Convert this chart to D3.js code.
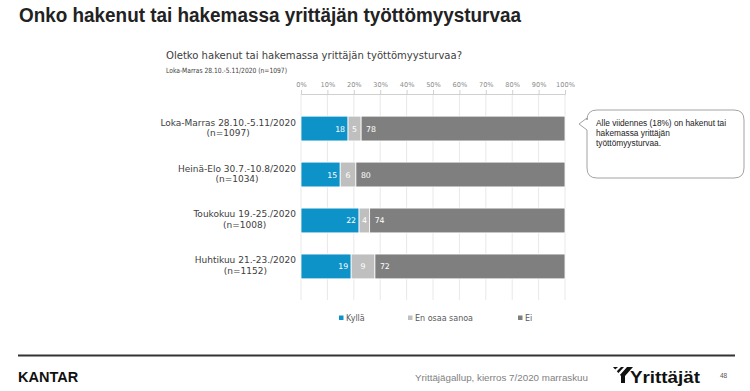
<html>
<head>
  <meta charset="utf-8">
  <script src="https://d3js.org/d3.v7.min.js"></script>
  <style>
    body { margin: 0; background: #fff; }
    svg { display: block; }
  </style>
</head>
<body>
  <div id="chart"></div>
  <script>
    /*--- Data ---*/
    var categories = ["Loka-Marras 28.10.-5.11/2020", "Heinä-Elo 30.7.-10.8/2020", "Toukokuu 19.-25./2020", "Huhtikuu 21.-23./2020"];
    var sampleSizes = ["(n=1097)", "(n=1034)", "(n=1008)", "(n=1152)"];
    var seriesNames = ["Kyllä", "En osaa sanoa", "Ei"];
    var kylla = [18, 15, 22, 19];
    var enOsaa = [5, 6, 4, 9];
    var ei = [78, 80, 74, 72];
    var tickValues = [0, 10, 20, 30, 40, 50, 60, 70, 80, 90, 100];

    var colors = ["#0e93c9", "#bfbfbf", "#7f7f7f"];
    var W = 750, H = 391;
    var chartFont = "'DejaVu Sans', Verdana, sans-serif";
    var arial = "'Liberation Sans', Arial, sans-serif";

    var svg = d3.select("#chart").append("svg").attr("width", W).attr("height", H);

    /*--- Title ---*/
    svg.append("text").attr("x", 19).attr("y", 22)
      .attr("font-family", arial).attr("font-weight", "bold").attr("font-size", 20)
      .attr("fill", "#222").attr("textLength", 502).attr("lengthAdjust", "spacingAndGlyphs")
      .text("Onko hakenut tai hakemassa yrittäjän työttömyysturvaa");

    svg.append("text").attr("x", 166).attr("y", 59)
      .attr("font-family", chartFont).attr("font-size", 10).attr("fill", "#404040")
      .attr("textLength", 296).attr("lengthAdjust", "spacingAndGlyphs")
      .text("Oletko hakenut tai hakemassa yrittäjän työttömyysturvaa?");
    svg.append("text").attr("x", 166).attr("y", 72.5)
      .attr("font-family", chartFont).attr("font-size", 7.2).attr("fill", "#404040")
      .attr("textLength", 121).attr("lengthAdjust", "spacingAndGlyphs")
      .text("Loka-Marras 28.10.-5.11/2020 (n=1097)");

    /*--- Scales ---*/
    var x = d3.scaleLinear().domain([0, 100]).range([301, 565]);
    var y = d3.scaleBand().domain(categories).range([95, 300]).padding(0.46);

    /*--- Grid + axis ---*/
    svg.append("g").selectAll("line").data(tickValues).enter().append("line")
      .attr("x1", function (d) { return x(d); }).attr("x2", function (d) { return x(d); })
      .attr("y1", 94).attr("y2", 300)
      .attr("stroke", "#e8e8e8").attr("stroke-width", 1);

    var axis = svg.append("g").attr("transform", "translate(0,94)")
      .call(d3.axisTop(x).tickValues(tickValues).tickSize(4).tickPadding(3)
        .tickFormat(function (d) { return d + "%"; }));
    axis.select(".domain").attr("stroke", "#d0d0d0");
    axis.selectAll(".tick line").attr("stroke", "#d0d0d0");
    axis.selectAll("text").attr("font-family", chartFont).attr("font-size", 6.6).attr("fill", "#8c8c8c");

    /*--- Stacked bars ---*/
    var rows = categories.map(function (c, i) {
      var vals = [kylla[i], enOsaa[i], ei[i]];
      var sum = d3.sum(vals), acc = 0;
      return vals.map(function (v, k) {
        var seg = { cat: c, k: k, v: v, x0: acc / sum * 100, x1: (acc + v) / sum * 100 };
        acc += v;
        return seg;
      });
    });

    var rowG = svg.append("g").selectAll("g").data(rows).enter().append("g");
    rowG.selectAll("rect").data(function (d) { return d; }).enter().append("rect")
      .attr("x", function (d) { return x(d.x0); })
      .attr("width", function (d) { return x(d.x1) - x(d.x0); })
      .attr("y", function (d) { return y(d.cat); })
      .attr("height", y.bandwidth())
      .attr("fill", function (d) { return colors[d.k]; })
      .attr("stroke", "#fff").attr("stroke-width", 0.8);

    rowG.selectAll("text").data(function (d) { return d; }).enter().append("text")
      .attr("x", function (d) {
        if (d.k === 0) return x(d.x1) - 3;
        if (d.k === 1) return (x(d.x0) + x(d.x1)) / 2;
        return x(d.x0) + 5;
      })
      .attr("text-anchor", function (d) { return d.k === 0 ? "end" : d.k === 1 ? "middle" : "start"; })
      .attr("y", function (d) { return y(d.cat) + y.bandwidth() / 2 + 3; })
      .attr("font-family", chartFont).attr("font-size", 7.8).attr("fill", "#fff")
      .text(function (d) { return d.v; });

    /*--- Category labels ---*/
    categories.forEach(function (c, i) {
      var cy = y(c) + y.bandwidth() / 2;
      var g = svg.append("g");
      var t1 = g.append("text").attr("y", cy - 3).text(c);
      var t2 = g.append("text").attr("y", cy + 7.5).text(sampleSizes[i]);
      g.selectAll("text").attr("font-family", chartFont).attr("font-size", 9)
        .attr("fill", "#404040").attr("text-anchor", "middle");
      var w = Math.max(t1.node().getComputedTextLength(), t2.node().getComputedTextLength());
      g.selectAll("text").attr("x", 296 - w / 2);
    });

    /*--- Legend ---*/
    var legendX = [339, 408, 518];
    var leg = svg.append("g").selectAll("g").data(seriesNames).enter().append("g")
      .attr("transform", function (d, i) { return "translate(" + legendX[i] + ",321)"; });
    leg.append("rect").attr("x", 0).attr("y", -5.5).attr("width", 4.5).attr("height", 4.5)
      .attr("fill", function (d, i) { return colors[i]; });
    leg.append("text").attr("x", 7).attr("y", 0)
      .attr("font-family", chartFont).attr("font-size", 8).attr("fill", "#595959")
      .text(function (d) { return d; });

    /*--- Callout ---*/
    var bx0 = 587, bx1 = 744, by0 = 110, by1 = 178, r = 10;
    var callout = d3.path();
    callout.moveTo(bx0 + r, by0);
    callout.lineTo(bx1 - r, by0);
    callout.quadraticCurveTo(bx1, by0, bx1, by0 + r);
    callout.lineTo(bx1, by1 - r);
    callout.quadraticCurveTo(bx1, by1, bx1 - r, by1);
    callout.lineTo(bx0 + r, by1);
    callout.quadraticCurveTo(bx0, by1, bx0, by1 - r);
    callout.lineTo(bx0, 130);
    callout.lineTo(579, 124);
    callout.lineTo(bx0, 118);
    callout.lineTo(bx0, by0 + r);
    callout.quadraticCurveTo(bx0, by0, bx0 + r, by0);
    callout.closePath();
    svg.append("path").attr("d", callout.toString())
      .attr("fill", "#fff").attr("stroke", "#8c8c8c").attr("stroke-width", 0.8);

    var calloutLines = ["Alle viidennes (18%) on hakenut tai", "hakemassa yrittäjän", "työttömyysturvaa."];
    svg.append("g").selectAll("text").data(calloutLines).enter().append("text")
      .attr("x", 596).attr("y", function (d, i) { return 125.5 + i * 10; })
      .attr("font-family", arial).attr("font-size", 8.3).attr("fill", "#222")
      .text(function (d) { return d; });

    /*--- Footer ---*/
    svg.append("line").attr("x1", 18).attr("x2", 735).attr("y1", 355.5).attr("y2", 355.5)
      .attr("stroke", "#333").attr("stroke-width", 2);
    svg.append("text").attr("x", 18).attr("y", 382)
      .attr("font-family", arial).attr("font-weight", "bold").attr("font-size", 14.5)
      .attr("fill", "#111").text("KANTAR");
    svg.append("text").attr("x", 415).attr("y", 381)
      .attr("font-family", arial).attr("font-size", 9.3).attr("fill", "#7f7f7f")
      .attr("textLength", 173).attr("lengthAdjust", "spacingAndGlyphs")
      .text("Yrittäjägallup, kierros 7/2020 marraskuu");

    // Yrittäjät logo mark
    var logo = svg.append("g").attr("transform", "translate(613,367)");
    logo.append("path").attr("d", "M0,0 L20,0 L12,9 L12,16 L8,16 L8,9 Z").attr("fill", "#111");
    logo.append("path").attr("d", "M5,0 L8,0 L2,6 L0.5,4 Z M11,0 L14,0 L6,9 L4.5,7 Z").attr("fill", "#fff");
    svg.append("text").attr("x", 630).attr("y", 383)
      .attr("font-family", arial).attr("font-weight", "bold").attr("font-size", 16)
      .attr("fill", "#111").attr("textLength", 70).attr("lengthAdjust", "spacingAndGlyphs")
      .text("Yrittäjät");
    svg.append("text").attr("x", 720).attr("y", 378)
      .attr("font-family", arial).attr("font-size", 6.5).attr("fill", "#555").text("48");
  </script>
</body>
</html>
